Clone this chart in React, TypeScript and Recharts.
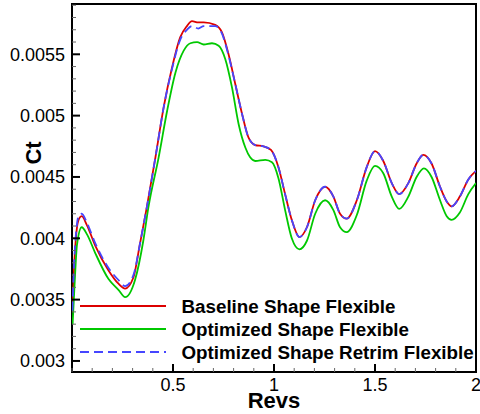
import { LineChart, Line, XAxis, YAxis, ReferenceArea, Legend } from 'recharts';

// Ct vs Revs, three flexible-blade cases
const FONT = '"Liberation Sans", Arial, Helvetica, sans-serif';

const baselineRevs = [
  0.002, 0.01, 0.022, 0.035, 0.048, 0.073, 0.115, 0.18, 0.23, 0.263,
  0.304, 0.337, 0.37, 0.413, 0.454, 0.495, 0.536, 0.569, 0.594, 0.625,
  0.652, 0.709, 0.742, 0.775, 0.808, 0.841, 0.874, 0.907, 0.948, 0.985,
  1.022, 1.055, 1.088, 1.126, 1.163, 1.204, 1.253, 1.294, 1.327, 1.36,
  1.41, 1.459, 1.5, 1.541, 1.583, 1.62, 1.665, 1.706, 1.739, 1.78,
  1.822, 1.855, 1.879, 1.92, 1.962, 2.0,
];
const baselineCt = [
  0.0034, 0.00375, 0.00405, 0.00416, 0.00418, 0.00411, 0.00394, 0.00374, 0.00363, 0.00359,
  0.00368, 0.00396, 0.00425, 0.00466, 0.00507, 0.00539, 0.00564, 0.00573, 0.00577, 0.00576,
  0.00576, 0.00574, 0.00568, 0.0055, 0.00526, 0.00502, 0.00482, 0.00476, 0.00475, 0.00472,
  0.00458, 0.00436, 0.00415, 0.00401, 0.00409, 0.00431, 0.00442, 0.00434, 0.0042, 0.00416,
  0.00431, 0.00458, 0.00471, 0.00463, 0.00445, 0.00436, 0.00445, 0.00461, 0.00468, 0.00461,
  0.00442, 0.0043, 0.00426, 0.00434, 0.00448, 0.00455,
];

const optimizedRevs = [
  0.003, 0.012, 0.025, 0.048, 0.075, 0.115, 0.18, 0.23, 0.263, 0.312,
  0.353, 0.378, 0.429, 0.471, 0.512, 0.553, 0.586, 0.619, 0.652, 0.693,
  0.726, 0.759, 0.792, 0.825, 0.858, 0.882, 0.907, 0.957, 0.99, 1.022,
  1.055, 1.088, 1.126, 1.163, 1.204, 1.253, 1.294, 1.327, 1.36, 1.41,
  1.459, 1.5, 1.541, 1.583, 1.62, 1.665, 1.706, 1.742, 1.78, 1.822,
  1.855, 1.879, 1.92, 1.962, 2.0,
];
const optimizedCt = [
  0.0033, 0.0036, 0.00395, 0.00409, 0.00403, 0.00388, 0.00367, 0.00358, 0.00352, 0.00366,
  0.00398, 0.00425, 0.00466, 0.00504, 0.00535, 0.00553, 0.00559, 0.0056, 0.00558, 0.00559,
  0.00557, 0.00546, 0.00523, 0.00493, 0.00474, 0.00466, 0.00463, 0.00464, 0.00462, 0.00449,
  0.00423, 0.004, 0.00391, 0.00398, 0.0042, 0.00431, 0.00423, 0.00409, 0.00405, 0.00419,
  0.00447, 0.00459, 0.00453, 0.00434, 0.00424, 0.00434, 0.0045, 0.00457, 0.0045, 0.00431,
  0.00418, 0.00415, 0.00421, 0.00436, 0.00445,
];

const retrimRevs = [
  0.002, 0.01, 0.022, 0.035, 0.048, 0.073, 0.115, 0.18, 0.23, 0.263,
  0.304, 0.337, 0.37, 0.413, 0.454, 0.495, 0.536, 0.569, 0.594, 0.625,
  0.652, 0.709, 0.742, 0.775, 0.808, 0.841, 0.874, 0.907, 0.948, 0.985,
  1.022, 1.055, 1.088, 1.126, 1.163, 1.204, 1.253, 1.294, 1.327, 1.36,
  1.41, 1.459, 1.5, 1.541, 1.583, 1.62, 1.665, 1.706, 1.739, 1.78,
  1.822, 1.855, 1.879, 1.92, 1.962, 2.0,
];
const retrimCt = [
  0.00341, 0.00378, 0.00408, 0.00419, 0.0042, 0.00413, 0.00396, 0.00376, 0.00366, 0.00361,
  0.0037, 0.00396, 0.00425, 0.00466, 0.00507, 0.00538, 0.00562, 0.0057, 0.00573, 0.00571,
  0.00573, 0.00573, 0.00567, 0.00549, 0.00526, 0.00502, 0.00482, 0.00476, 0.00475, 0.00472,
  0.00458, 0.00436, 0.00415, 0.00401, 0.00409, 0.00431, 0.00442, 0.00434, 0.0042, 0.00416,
  0.00431, 0.00458, 0.00471, 0.00463, 0.00445, 0.00436, 0.00445, 0.00461, 0.00468, 0.00461,
  0.00442, 0.0043, 0.00426, 0.00434, 0.00448, 0.00455,
];

const yDomain = [0.00291, 0.00591];
const xDomain = [0, 2];

// minor + major ticks
const yTicks = [
  0.003, 0.0031, 0.0032, 0.0033, 0.0034, 0.0035, 0.0036, 0.0037, 0.0038, 0.0039,
  0.004, 0.0041, 0.0042, 0.0043, 0.0044, 0.0045, 0.0046, 0.0047, 0.0048, 0.0049,
  0.005, 0.0051, 0.0052, 0.0053, 0.0054, 0.0055, 0.0056, 0.0057, 0.0058, 0.0059,
];
const yMajorTicks = [0.003, 0.0035, 0.004, 0.0045, 0.005, 0.0055];
const yMajorLabels = ['0.003', '0.0035', '0.004', '0.0045', '0.005', '0.0055'];

const xTicks = [
  0, 0.1, 0.2, 0.3, 0.4, 0.5, 0.6, 0.7, 0.8, 0.9, 1.0,
  1.1, 1.2, 1.3, 1.4, 1.5, 1.6, 1.7, 1.8, 1.9, 2.0,
];
const xMajorTicks = [0.5, 1, 1.5, 2];
const xMajorLabels = ['0.5', '1', '1.5', '2'];

const toRows = (revs: number[], ct: number[]) => revs.map((r, i) => ({ revs: r, ct: ct[i] }));

function majorIndex(list: number[], v: number) {
  return list.findIndex((m) => Math.abs(m - v) < 1e-9);
}

function YTick(props: any) {
  const { x, y, payload } = props;
  const i = majorIndex(yMajorTicks, payload.value);
  const major = i >= 0;
  return (
    <g>
      <line x1={x} x2={x + (major ? 8 : 4)} y1={y} y2={y} stroke={major ? '#000' : '#666'} strokeWidth={major ? 2 : 1} />
      {major && (
        <text x={x - 7} y={y} dy="0.355em" textAnchor="end" fontSize={18} fontFamily={FONT} fill="#000">
          {yMajorLabels[i]}
        </text>
      )}
    </g>
  );
}

function XTick(props: any) {
  const { x, y, payload } = props;
  const i = majorIndex(xMajorTicks, payload.value);
  const major = i >= 0;
  return (
    <g>
      <line x1={x} x2={x} y1={y} y2={y - (major ? 8 : 4)} stroke={major ? '#000' : '#666'} strokeWidth={major ? 2 : 1} />
      {major && (
        <text x={x} y={y + 6} dy="0.71em" textAnchor="middle" fontSize={18} fontFamily={FONT} fill="#000">
          {xMajorLabels[i]}
        </text>
      )}
    </g>
  );
}

function CtTitle(props: any) {
  const vb = props.viewBox || { x: 0, y: 0 };
  const cx = vb.x + 33.5;
  const cy = vb.y + 149;
  return (
    <text x={cx} y={cy} dy="0.355em" textAnchor="middle" transform={`rotate(-90 ${cx} ${cy})`}
      fontSize={22} fontWeight={700} fontFamily={FONT} fill="#000">
      Ct
    </text>
  );
}

function RevsTitle(props: any) {
  const vb = props.viewBox || { x: 0, y: 0, width: 0 };
  return (
    <text x={vb.x + vb.width / 2} y={vb.y + 28} dy="0.355em" textAnchor="middle"
      fontSize={22} fontWeight={700} fontFamily={FONT} fill="#000">
      Revs
    </text>
  );
}

function LegendBox(props: any) {
  const items = props.payload || [];
  return (
    <svg width={400} height={72} style={{ display: 'block' }}>
      {items.map((entry: any, i: number) => {
        const cy = 12 + i * 23;
        const dash = entry.payload && entry.payload.strokeDasharray;
        return (
          <g key={entry.value}>
            <line x1={4} x2={90} y1={cy} y2={cy} stroke={entry.color} strokeWidth={2} strokeDasharray={dash} />
            <text x={105.5} y={cy} dy="0.355em" fontSize={18.8} fontWeight={700} fontFamily={FONT} fill="#000">
              {entry.value}
            </text>
          </g>
        );
      })}
    </svg>
  );
}

export default function App() {
  return (
    <div style={{ position: 'absolute', left: 0, top: 0, background: '#fff', fontFamily: FONT }}>
      <LineChart width={480} height={414} margin={{ top: 4, right: 4, bottom: 0, left: 0 }}>
        <XAxis
          dataKey="revs"
          type="number"
          domain={xDomain}
          ticks={xTicks}
          interval={0}
          allowDataOverflow
          height={42}
          axisLine={false}
          tickLine={false}
          tickSize={0}
          tickMargin={0}
          tick={<XTick />}
          label={{ content: <RevsTitle /> }}
        />
        <YAxis
          type="number"
          domain={yDomain}
          ticks={yTicks}
          interval={0}
          allowDataOverflow
          width={72}
          axisLine={false}
          tickLine={false}
          tickSize={0}
          tickMargin={0}
          tick={<YTick />}
          label={{ content: <CtTitle /> }}
        />
        <Line data={toRows(baselineRevs, baselineCt)} dataKey="ct" name="Baseline Shape Flexible" type="monotone"
          stroke="#dc0000" strokeWidth={1.8} dot={false} isAnimationActive={false} />
        <Line data={toRows(optimizedRevs, optimizedCt)} dataKey="ct" name="Optimized Shape Flexible" type="monotone"
          stroke="#00c800" strokeWidth={1.8} dot={false} isAnimationActive={false} />
        <Line data={toRows(retrimRevs, retrimCt)} dataKey="ct" name="Optimized Shape Retrim Flexible" type="monotone"
          stroke="#4646ff" strokeWidth={1.8} strokeDasharray="9 5" dot={false} isAnimationActive={false} />
        <ReferenceArea x1={xDomain[0]} x2={xDomain[1]} y1={yDomain[0]} y2={yDomain[1]}
          fill="none" stroke="#000" strokeWidth={2} ifOverflow="visible" />
        <Legend layout="vertical" align="center" verticalAlign="middle" content={<LegendBox />}
          wrapperStyle={{ left: 76, top: 294, width: 400 }} />
      </LineChart>
    </div>
  );
}
